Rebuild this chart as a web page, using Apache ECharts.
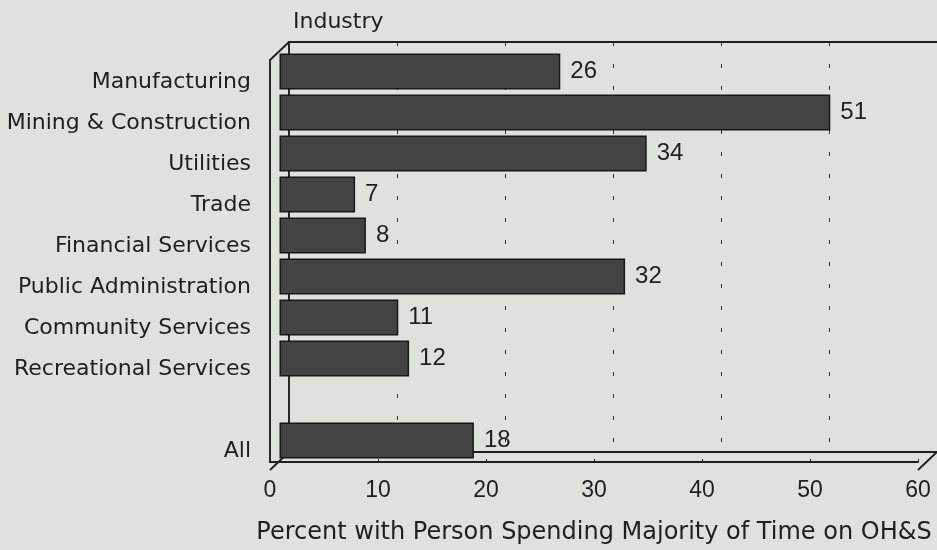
<!DOCTYPE html>
<html>
<head>
<meta charset="utf-8">
<script src="https://cdn.jsdelivr.net/npm/echarts@6/dist/echarts.min.js"></script>
<style>
  html, body { margin: 0; padding: 0; background: #dfe1dd; }
  #chart { width: 937px; height: 550px; }
</style>
</head>
<body>
<div id="chart"></div>
<script>
// Industries (top to bottom) and their percentages
const industries = [
  'Manufacturing',
  'Mining & Construction',
  'Utilities',
  'Trade',
  'Financial Services',
  'Public Administration',
  'Community Services',
  'Recreational Services'
];
const industryValues = [26, 51, 34, 7, 8, 32, 11, 12];

// Overall row, shown after a blank slot
const overallLabel = 'All';
const overallValue = 18;

// Value axis ticks
const tickValues = [0, 10, 20, 30, 40, 50, 60];

const chartTitle = 'Industry';
const valueAxisName = 'Percent with Person Spending Majority of Time on OH&S';

// Category slots: industries, one empty spacer, then the overall row
const categories = industries.concat(['', overallLabel]);
const values = industryValues.concat(['-', overallValue]);

// Pseudo-3D box: front plane, bars at half depth, back wall at full depth
const FRONT = { left: 270, top: 60, width: 648, height: 410 };
const DX = 19, DY = 18;
const backRect = { left: FRONT.left + DX, top: FRONT.top - DY, width: FRONT.width, height: FRONT.height };
const midRect = { left: FRONT.left + DX / 2, top: FRONT.top - DY / 2, width: FRONT.width, height: FRONT.height };
// category names sit slightly low, on the front face of each slot
const labelRect = { left: FRONT.left, top: FRONT.top + 2, width: FRONT.width, height: FRONT.height };

const INK = '#1f1f1f';
const TEXT_FONT = '"DejaVu Sans", "Liberation Sans", Arial, sans-serif';
const NUM_FONT = '"Liberation Sans", Arial, Helvetica, sans-serif';
const vMin = tickValues[0], vMax = tickValues[tickValues.length - 1];
const vStep = tickValues[1] - tickValues[0];

const chart = echarts.init(document.getElementById('chart'), null, { renderer: 'canvas' });

const frameLine = { show: true, lineStyle: { color: INK, width: 1.9 } };

chart.setOption({
  backgroundColor: '#dfe1dd',
  animation: false,
  title: {
    text: chartTitle,
    left: 288,
    top: 6,
    textStyle: { color: INK, fontFamily: TEXT_FONT, fontSize: 22, fontWeight: 'normal' }
  },
  grid: [
    Object.assign({ containLabel: false }, backRect),
    Object.assign({ containLabel: false }, midRect),
    Object.assign({ containLabel: false }, FRONT),
    Object.assign({ containLabel: false }, labelRect)
  ],
  xAxis: [
    // back wall floor line + dashed gridlines
    {
      gridIndex: 0, type: 'value', min: vMin, max: vMax, interval: vStep, position: 'bottom',
      axisLine: frameLine, axisTick: { show: false }, axisLabel: { show: false },
      splitLine: { show: true, showMinLine: false, showMaxLine: false,
        lineStyle: { color: '#2e2e2e', width: 1, type: [4, 18] } }
    },
    // back wall top edge
    {
      gridIndex: 0, type: 'value', min: vMin, max: vMax, position: 'top',
      axisLine: frameLine, axisTick: { show: false }, axisLabel: { show: false }, splitLine: { show: false }
    },
    // bar plane
    {
      gridIndex: 1, type: 'value', min: vMin, max: vMax, show: false
    },
    // front floor with tick labels and axis title
    {
      gridIndex: 2, type: 'value', min: vMin, max: vMax, interval: vStep, position: 'bottom',
      axisLine: frameLine,
      axisTick: { show: true, inside: true, length: 3, lineStyle: { color: INK } },
      splitLine: { show: false },
      axisLabel: { color: INK, fontFamily: NUM_FONT, fontSize: 23, margin: 17 },
      name: valueAxisName,
      nameLocation: 'middle',
      nameGap: 59,
      nameTextStyle: { color: INK, fontFamily: TEXT_FONT, fontSize: 24 }
    },
    // label plane (no visible axis)
    {
      gridIndex: 3, type: 'value', min: vMin, max: vMax, show: false
    }
  ],
  yAxis: [
    {
      gridIndex: 0, type: 'category', data: categories, inverse: true,
      axisLine: frameLine, axisTick: { show: false }, axisLabel: { show: false }, splitLine: { show: false }
    },
    {
      gridIndex: 1, type: 'category', data: categories, inverse: true, show: false
    },
    {
      gridIndex: 2, type: 'category', data: categories, inverse: true,
      axisLine: frameLine, axisTick: { show: false }, axisLabel: { show: false }, splitLine: { show: false }
    },
    {
      gridIndex: 3, type: 'category', data: categories, inverse: true,
      axisLine: { show: false }, axisTick: { show: false }, splitLine: { show: false },
      axisLabel: { color: INK, fontFamily: TEXT_FONT, fontSize: 22, margin: 19 }
    }
  ],
  series: [
    {
      type: 'bar',
      xAxisIndex: 2, yAxisIndex: 1,
      data: values,
      barWidth: 36,
      itemStyle: { color: '#434343', borderColor: '#181818', borderWidth: 1.5 },
      label: {
        show: true, position: 'right', distance: 10,
        color: INK, fontFamily: NUM_FONT, fontSize: 24
      }
    }
  ],
  graphic: [
    // depth edges joining the front plane to the back wall
    { type: 'line', silent: true, z: 10,
      shape: { x1: FRONT.left, y1: FRONT.top, x2: backRect.left, y2: backRect.top },
      style: { stroke: INK, lineWidth: 1.9 } },
    { type: 'line', silent: true, z: 0,
      shape: { x1: FRONT.left, y1: FRONT.top + FRONT.height, x2: backRect.left, y2: backRect.top + backRect.height },
      style: { stroke: INK, lineWidth: 1.9 } },
    { type: 'line', silent: true, z: 10,
      shape: { x1: FRONT.left + FRONT.width, y1: FRONT.top + FRONT.height,
               x2: backRect.left + backRect.width, y2: backRect.top + backRect.height },
      style: { stroke: INK, lineWidth: 1.9 } }
  ]
});
</script>
</body>
</html>
